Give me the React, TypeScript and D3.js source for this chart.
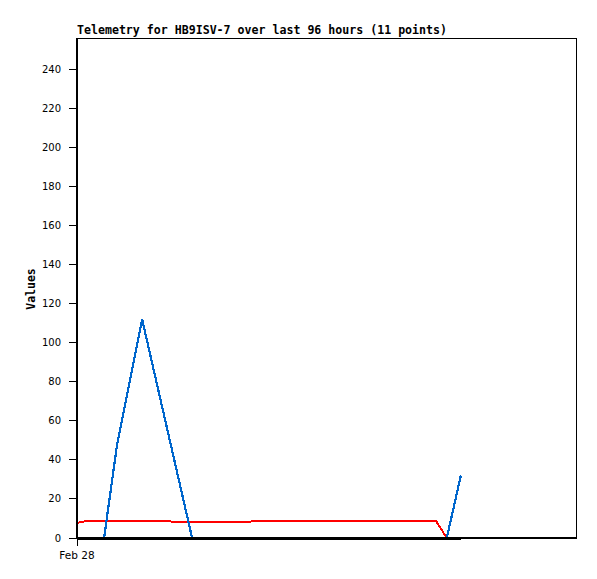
import React from "react";
import * as d3 from "d3";

const title = "Telemetry for HB9ISV-7 over last 96 hours (11 points)";
const yLabel = "Values";
const xTickLabels = ["Feb 28"];
const xTickHours = [0];
const yTicks = [0, 20, 40, 60, 80, 100, 120, 140, 160, 180, 200, 220, 240];

// hours since start of window
const redHours = [0, 1, 2.1, 14.8, 19.8, 36.7, 56.6, 68.9, 71];
const redValues = [7.8, 8.2, 8.9, 8.9, 8.2, 8.5, 8.9, 8.9, 0];
const blueHours = [5.2, 7.7, 12.5, 22.1, 71, 73.7];
const blueValues = [0, 48, 112, 0, 0, 32];
const blackHours = [0, 73.7];
const blackValues = [0, 0];

const W = 597, H = 579;
const L = 77, R = 577, T = 38, B = 538;

export default function App() {
  const x = d3.scaleLinear().domain([0, 96]).range([L, R]);
  const y = d3.scaleLinear().domain([0, 256]).range([B, T]);
  const line = d3
    .line<[number, number]>()
    .x((d) => x(d[0]))
    .y((d) => y(d[1]));
  const zip = (a: number[], b: number[]) => a.map((v, i) => [v, b[i]] as [number, number]);

  return (
    <svg
      width={W}
      height={H}
      style={{ position: "absolute", left: 0, top: 0, background: "#fff" }}
    >
      <rect x={0} y={0} width={W} height={H} fill="#fff" />
      <text
        x={L}
        y={34}
        fontFamily="'DejaVu Sans Mono', monospace"
        fontWeight="bold"
        fontSize={12}
        textLength={370}
        lengthAdjust="spacingAndGlyphs"
      >
        {title}
      </text>
      <rect x={L + 0.5} y={T + 0.5} width={R - L - 1} height={B - T} fill="none" stroke="#000" strokeWidth={1} shapeRendering="crispEdges" />
      {yTicks.map((t) => (
        <g key={t}>
          <line x1={L - 8} x2={L} y1={y(t)} y2={y(t)} stroke="#000" strokeWidth={1} shapeRendering="crispEdges" />
          <text
            x={61}
            y={y(t)}
            dy="0.35em"
            textAnchor="end"
            fontFamily="'DejaVu Sans', sans-serif"
            fontSize={10}
          >
            {t}
          </text>
        </g>
      ))}
      {xTickHours.map((h, i) => (
        <g key={h}>
          <line x1={x(h)} x2={x(h)} y1={B} y2={B + 8} stroke="#000" strokeWidth={1} shapeRendering="crispEdges" />
          <text
            x={x(h)}
            y={559}
            textAnchor="middle"
            fontFamily="'DejaVu Sans', sans-serif"
            fontSize={10.5}
          >
            {xTickLabels[i]}
          </text>
        </g>
      ))}
      <text
        transform={`translate(35,${289}) rotate(-90)`}
        textAnchor="middle"
        fontFamily="'DejaVu Sans Mono', monospace"
        fontWeight="bold"
        fontSize={11.5}
      >
        {yLabel}
      </text>
      <path d={line(zip(redHours, redValues)) || ""} fill="none" stroke="#ff0000" strokeWidth={2} shapeRendering="crispEdges" />
      <path d={line(zip(blueHours, blueValues)) || ""} fill="none" stroke="#0066cc" strokeWidth={2.2} shapeRendering="crispEdges" />
      <line x1={L} x2={R} y1={B} y2={B} stroke="#000" strokeWidth={2} shapeRendering="crispEdges" />
      <path d={line(zip(blackHours, blackValues)) || ""} fill="none" stroke="#000" strokeWidth={3} shapeRendering="crispEdges" />
      <line x1={L} x2={L} y1={T} y2={B + 1} stroke="#000" strokeWidth={2} shapeRendering="crispEdges" />
    </svg>
  );
}
